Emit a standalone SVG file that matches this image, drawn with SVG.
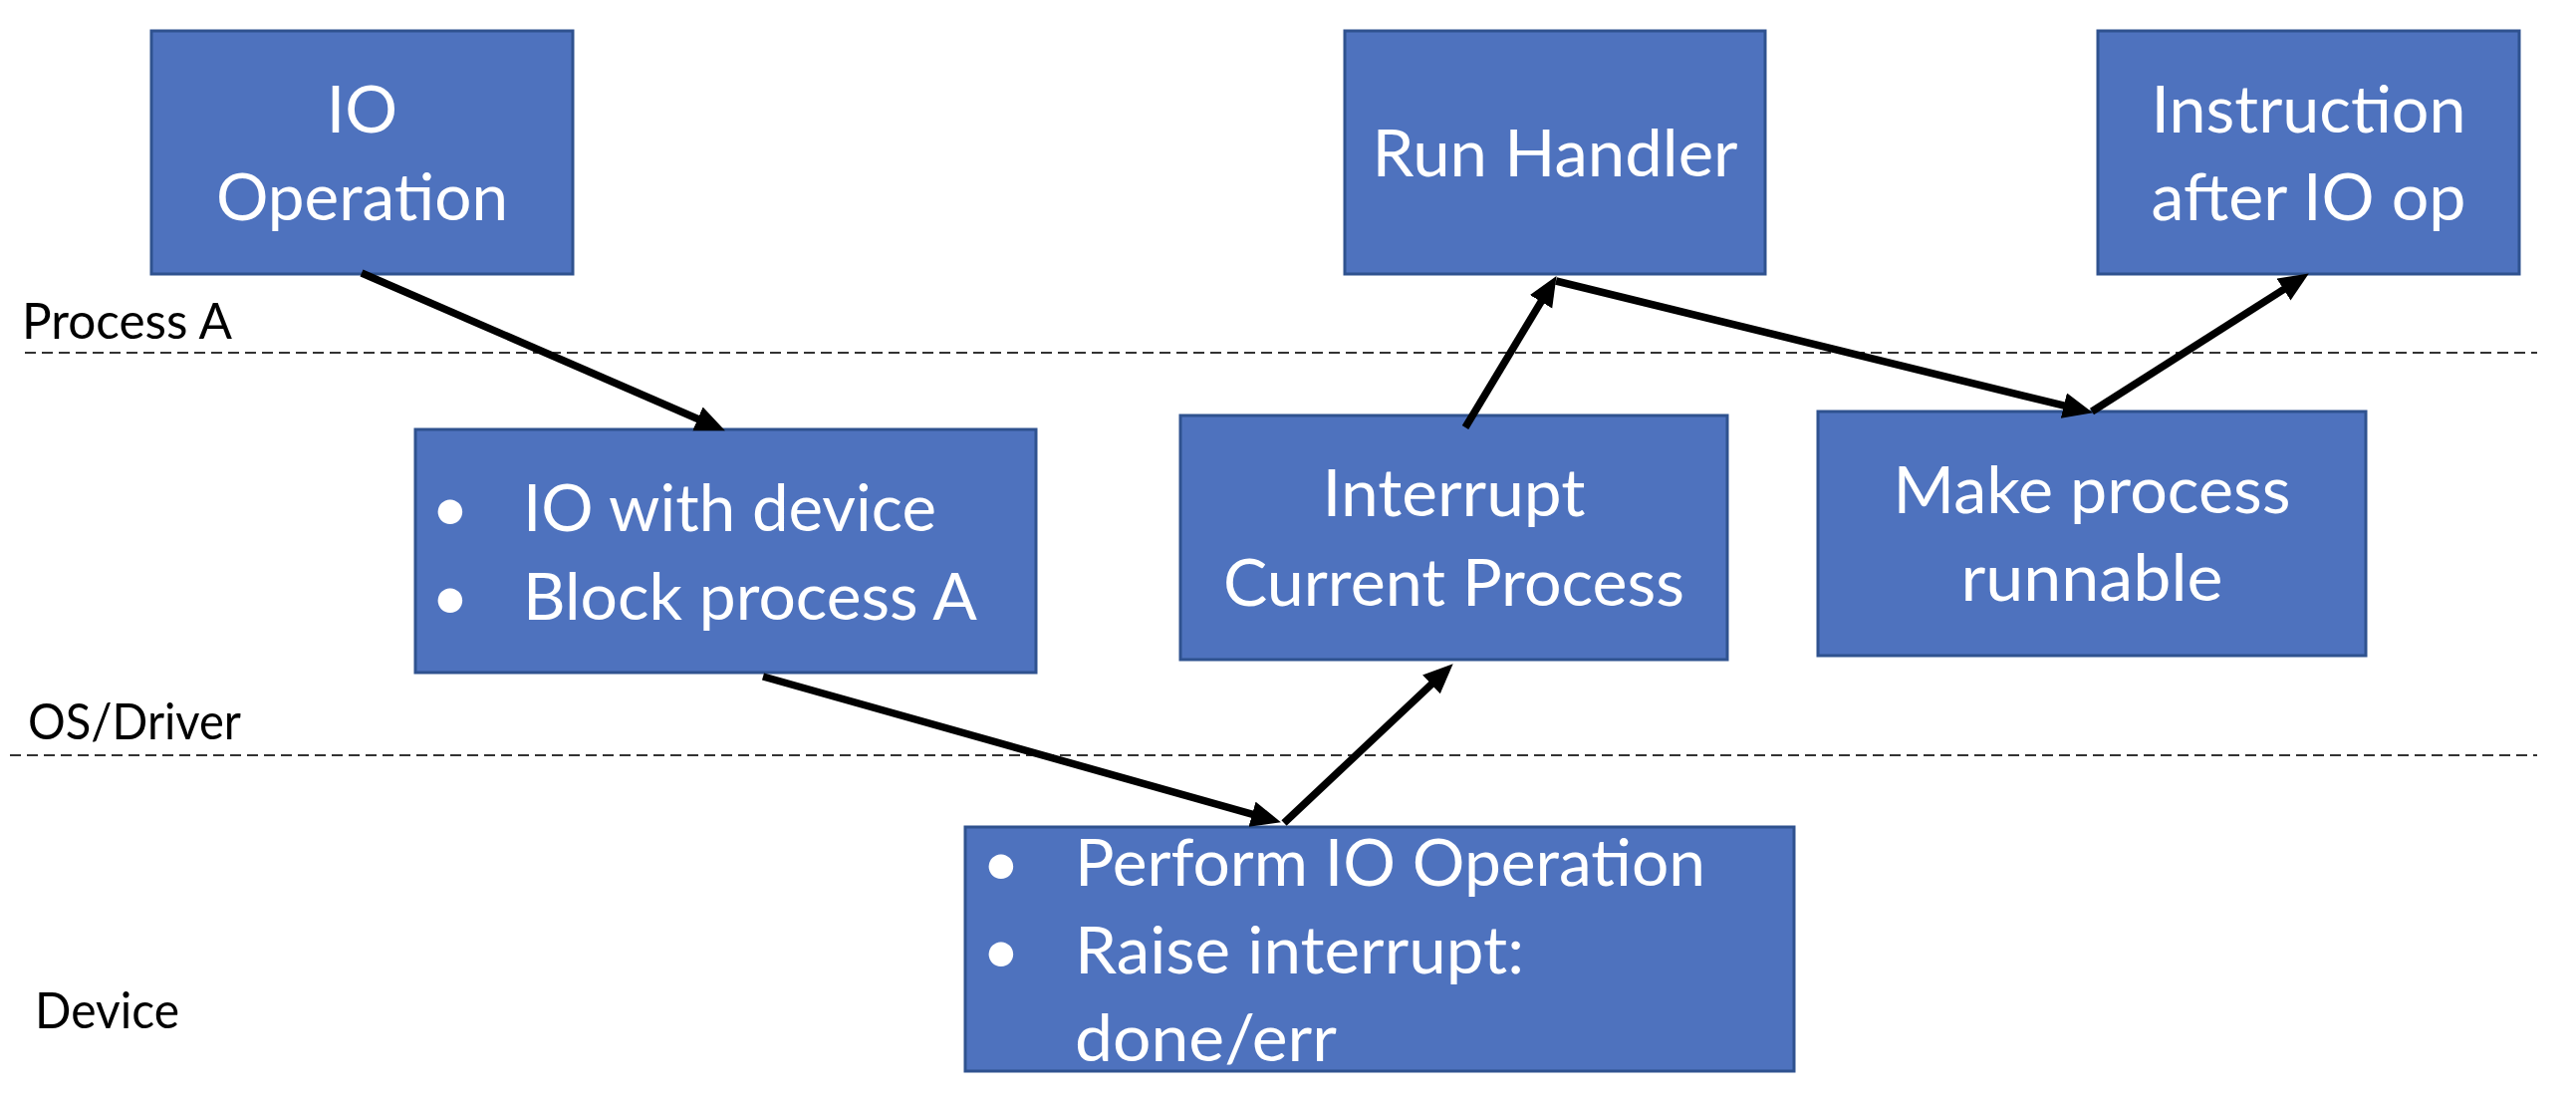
<svg xmlns="http://www.w3.org/2000/svg" width="2586" height="1106" viewBox="0 0 2586 1106">
<style>
.box{fill:#4E72BE;stroke:#2F528F;stroke-width:3}
.t{font-family:Lato,"Open Sans","Liberation Sans",sans-serif;font-size:66px;fill:#FFFFFF}
.c{text-anchor:middle}
.lbl{font-family:Lato,"Open Sans","Liberation Sans",sans-serif;font-size:50px;fill:#000000}
.dash{stroke:#333333;stroke-width:2;stroke-dasharray:11 6;fill:none}
.arr{stroke:#000000;stroke-width:7.5;fill:none;marker-end:url(#ah)}
</style>
<defs>
<marker id="ah" markerUnits="userSpaceOnUse" markerWidth="32" markerHeight="28" refX="9" refY="13" orient="auto" viewBox="0 0 32 28">
<path d="M0,0 L30,13 L0,26 Z" fill="#000000"/>
</marker>
</defs>
<rect width="2586" height="1106" fill="#FFFFFF"/>
<g id="lanes">
<line class="dash" x1="25" y1="354" x2="2547" y2="354"/>
<line class="dash" x1="10" y1="758" x2="2547" y2="758"/>
<text class="lbl" x="22" y="340" textLength="211" lengthAdjust="spacingAndGlyphs">Process A</text>
<text class="lbl" x="28" y="742" textLength="214" lengthAdjust="spacingAndGlyphs">OS/Driver</text>
<text class="lbl" x="35" y="1032" textLength="145" lengthAdjust="spacingAndGlyphs">Device</text>
</g>
<g id="node-io-operation">
<rect class="box" x="152" y="31" width="423" height="244"/>
<text class="t c" x="363.5" y="133">IO</text>
<text class="t c" x="363.5" y="221" textLength="293" lengthAdjust="spacingAndGlyphs">Operation</text>
</g>
<g id="node-run-handler">
<rect class="box" x="1350" y="31" width="422" height="244"/>
<text class="t c" x="1561" y="177" textLength="367" lengthAdjust="spacingAndGlyphs">Run Handler</text>
</g>
<g id="node-instruction">
<rect class="box" x="2106" y="31" width="423" height="244"/>
<text class="t c" x="2317.5" y="133" textLength="316" lengthAdjust="spacingAndGlyphs">Instruction</text>
<text class="t c" x="2317.5" y="221" textLength="316" lengthAdjust="spacingAndGlyphs">after IO op</text>
</g>
<g id="node-io-with-device">
<rect class="box" x="417" y="431" width="623" height="244"/>
<text class="t c" x="452" y="533">•</text>
<text class="t" x="525" y="533" textLength="415" lengthAdjust="spacingAndGlyphs">IO with device</text>
<text class="t c" x="452" y="622">•</text>
<text class="t" x="525" y="622" textLength="456" lengthAdjust="spacingAndGlyphs">Block process A</text>
</g>
<g id="node-interrupt">
<rect class="box" x="1185" y="417" width="549" height="245"/>
<text class="t c" x="1459.5" y="518" textLength="264" lengthAdjust="spacingAndGlyphs">Interrupt</text>
<text class="t c" x="1459.5" y="608" textLength="463" lengthAdjust="spacingAndGlyphs">Current Process</text>
</g>
<g id="node-make-runnable">
<rect class="box" x="1825" y="413" width="550" height="245"/>
<text class="t c" x="2100" y="515" textLength="399" lengthAdjust="spacingAndGlyphs">Make process</text>
<text class="t c" x="2100" y="603" textLength="263" lengthAdjust="spacingAndGlyphs">runnable</text>
</g>
<g id="node-perform-io">
<rect class="box" x="969" y="830" width="832" height="245"/>
<text class="t c" x="1005" y="889">•</text>
<text class="t" x="1079" y="889" textLength="633" lengthAdjust="spacingAndGlyphs">Perform IO Operation</text>
<text class="t c" x="1005" y="977">•</text>
<text class="t" x="1079" y="977" textLength="451" lengthAdjust="spacingAndGlyphs">Raise interrupt:</text>
<text class="t" x="1079" y="1065" textLength="263" lengthAdjust="spacingAndGlyphs">done/err</text>
</g>
<g id="connectors">
<line class="arr" x1="363" y1="274" x2="708.7" y2="424.0"/>
<line class="arr" x1="766" y1="679" x2="1265.7" y2="819.6"/>
<line class="arr" x1="1289" y1="826" x2="1443.4" y2="680.7"/>
<line class="arr" x1="1471" y1="429" x2="1551.7" y2="295.1"/>
<line class="arr" x1="1562" y1="282" x2="2080.6" y2="409.2"/>
<line class="arr" x1="2100" y1="413" x2="2300.1" y2="285.7"/>
</g>
</svg>
